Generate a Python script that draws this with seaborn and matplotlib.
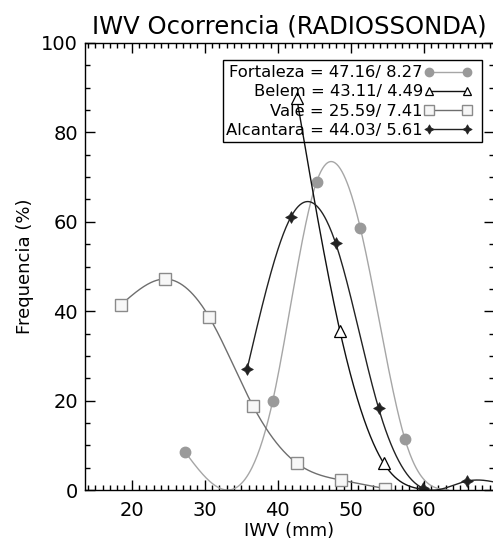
import numpy as np
import pandas as pd
import matplotlib
matplotlib.use("Agg")
import matplotlib.pyplot as plt
import seaborn as sns
from matplotlib.lines import Line2D
from matplotlib.patches import Rectangle
from matplotlib.legend_handler import HandlerLine2D
from matplotlib.ticker import MultipleLocator

# values (bins of IWV in mm, frequency in %)
fortaleza_x = [27.3, 33.3, 39.3, 45.3, 51.3, 57.4, 63.4]
fortaleza_y = [8.5, 0.0, 19.9, 68.9, 58.6, 11.4, 0.0]
belem_x = [42.6, 48.5, 54.5, 60.5]
belem_y = [87.6, 35.6, 6.0, 0.0]
vale_x = [18.5, 24.6, 30.6, 36.6, 42.6, 48.7, 54.7]
vale_y = [41.4, 47.2, 38.7, 18.8, 6.0, 2.2, 0.3]
alcantara_x = [35.8, 41.8, 47.9, 53.8, 59.9, 65.9, 71.9]
alcantara_y = [27.1, 61.1, 55.3, 18.3, 0.4, 2.0, 0.8]

labels = ["Fortaleza = 47.16/ 8.27", "Belem = 43.11/ 4.49",
          "Vale = 25.59/ 7.41", "Alcantara = 44.03/ 5.61"]


def natural_spline(x, y, n=300):
    # smooth curve through the points (natural cubic spline)
    x = np.asarray(x, float)
    y = np.asarray(y, float)
    k = len(x)
    h = np.diff(x)
    A = np.zeros((k, k))
    b = np.zeros(k)
    A[0, 0] = A[-1, -1] = 1.0
    for i in range(1, k - 1):
        A[i, i - 1] = h[i - 1]
        A[i, i] = 2 * (h[i - 1] + h[i])
        A[i, i + 1] = h[i]
        b[i] = 6 * ((y[i + 1] - y[i]) / h[i] - (y[i] - y[i - 1]) / h[i - 1])
    M = np.linalg.solve(A, b)
    xs = np.linspace(x[0], x[-1], n)
    idx = np.clip(np.searchsorted(x, xs) - 1, 0, k - 2)
    x0, x1 = x[idx], x[idx + 1]
    hh = x1 - x0
    t0, t1 = x1 - xs, xs - x0
    ys = (M[idx] * t0 ** 3 + M[idx + 1] * t1 ** 3) / (6 * hh) \
        + (y[idx] / hh - M[idx] * hh / 6) * t0 \
        + (y[idx + 1] / hh - M[idx + 1] * hh / 6) * t1
    return xs, ys


sns.set_style("ticks")
plt.rcParams['font.family'] = ['DejaVu Sans']
plt.rcParams['text.color'] = 'black'
plt.rcParams['axes.labelcolor'] = 'black'

fig = plt.figure(figsize=(4.93, 5.45), dpi=100)
ax = fig.add_axes([85 / 493, 1 - 490 / 545, 409 / 493, 447 / 545])

series = [
    (fortaleza_x, fortaleza_y, dict(color="#a6a6a6", lw=1.0),
     dict(marker="o", ms=7.5, mfc="#9a9a9a", mec="#9a9a9a")),
    (belem_x, belem_y, dict(color="#111111", lw=1.0),
     dict(marker="^", ms=8, mfc="white", mec="black", mew=0.9)),
    (vale_x, vale_y, dict(color="#6e6e6e", lw=1.0),
     dict(marker="s", ms=8.5, mfc="#f7f7f7", mec="#8a8a8a", mew=1.0)),
    (alcantara_x, alcantara_y, dict(color="#222222", lw=1.0),
     dict(marker=(4, 1, 0), ms=8.5, mfc="#222222", mec="#222222", mew=0.5)),
]

handles = []
for (x, y, lkw, mkw), lab in zip(series, labels):
    xs, ys = natural_spline(x, y)
    sns.lineplot(x=xs, y=ys, ax=ax, sort=False, estimator=None,
                 color=lkw["color"], lw=lkw["lw"])
    df = pd.DataFrame({"x": x, "y": y})
    df = df[df["y"] > 0]  # empty bins get no symbol
    ax.plot(df["x"], df["y"], ls="none", **mkw)
    small = dict(mkw, ms=mkw["ms"] * 0.8)
    handles.append(Line2D([], [], color=lkw["color"], lw=lkw["lw"], **small))

ax.set_xlim(13.6, 69.6)
ax.set_ylim(0, 100)
ax.xaxis.set_major_locator(MultipleLocator(10))
ax.xaxis.set_minor_locator(MultipleLocator(1))
ax.yaxis.set_major_locator(MultipleLocator(20))
ax.yaxis.set_minor_locator(MultipleLocator(5))
ax.tick_params(which="both", direction="in", top=True, right=True,
               width=1.0, colors="black", labelsize=14)
ax.tick_params(axis="x", pad=8)
ax.tick_params(axis="y", pad=5)
ax.tick_params(which="major", length=7)
ax.tick_params(which="minor", length=3.5)
for s in ax.spines.values():
    s.set_linewidth(1.0)
    s.set_color("black")

ax.set_title("IWV Ocorrencia (RADIOSSONDA)", fontsize=17.5, pad=7)
ax.set_xlabel("IWV (mm)", fontsize=13, labelpad=1)
ax.set_ylabel("Frequencia (%)", fontsize=13, labelpad=5)

# legend: right-aligned labels with the sample to the right, outlined box
leg = ax.legend(handles, labels, loc="upper right", bbox_to_anchor=(0.934, 0.950),
                markerfirst=False, numpoints=2, handlelength=2.3, handletextpad=0.4,
                fontsize=11.8, labelspacing=0.25, borderpad=0, borderaxespad=0,
                frameon=False, handler_map={Line2D: HandlerLine2D(marker_pad=0)})
ax.add_patch(Rectangle((0.337, 0.779), 0.634, 0.183, transform=ax.transAxes,
                       fill=False, ec="black", lw=1.0, zorder=5))

fig.savefig("out.png", dpi=100)
